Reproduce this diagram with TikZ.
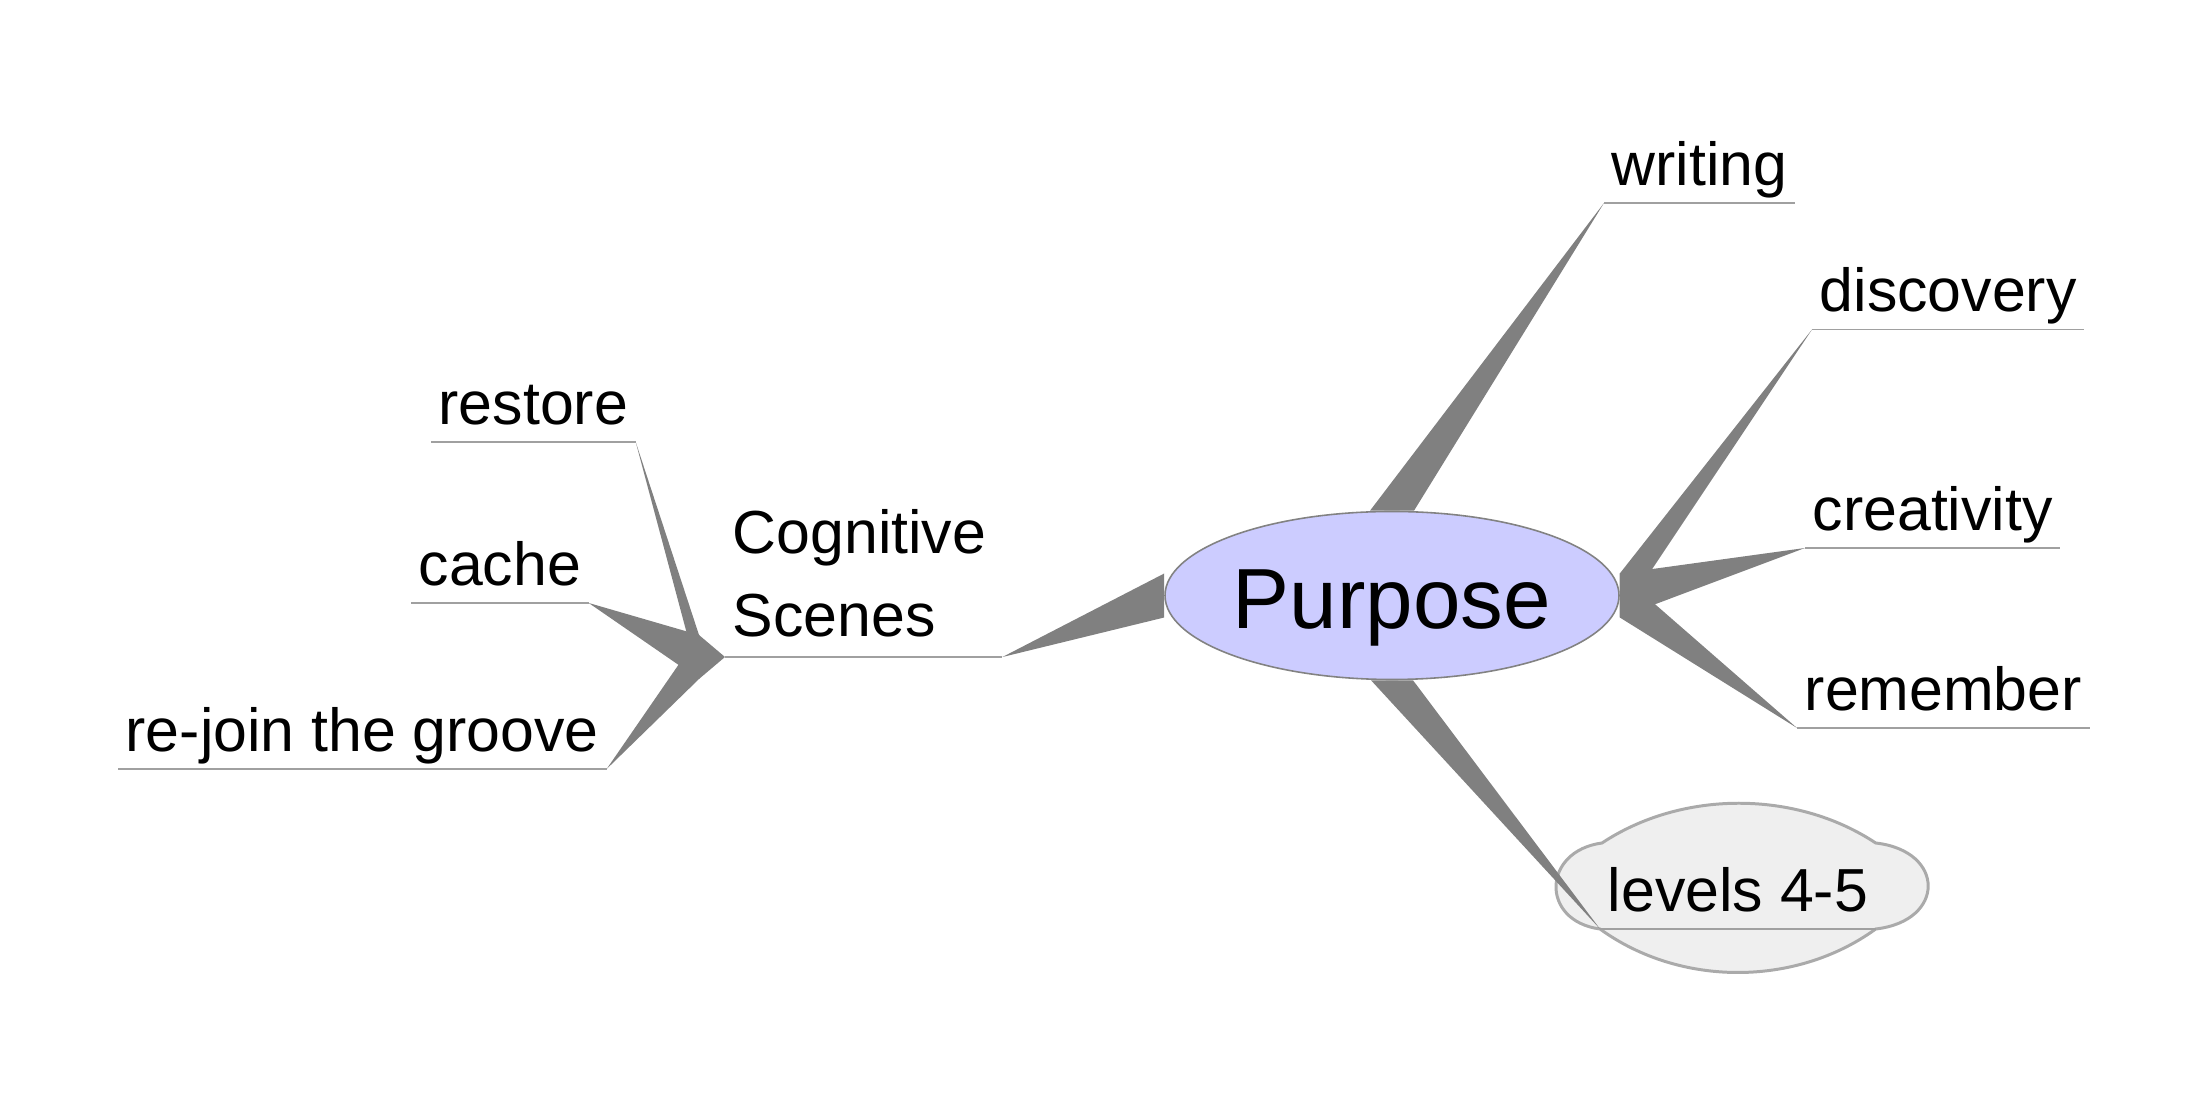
\documentclass[tikz,border=0pt]{standalone}
\usepackage{fontspec}
\setmainfont{Liberation Sans}
\usetikzlibrary{calc,backgrounds,shapes.geometric}
\definecolor{rootFill}{RGB}{204,204,255}
\definecolor{rootEdge}{RGB}{130,130,130}
\definecolor{branchGray}{RGB}{128,128,128}
\definecolor{leafLine}{RGB}{160,160,160}
\definecolor{cloudFill}{RGB}{239,239,239}
\definecolor{cloudEdge}{RGB}{170,170,170}
\newcommand{\BranchWedge}[3]{%
  \fill[branch] ($#1+#2$) -- #3 -- ($#1-#2$) -- cycle;}
\tikzset{
  root/.style={ellipse,draw=rootEdge,fill=rootFill,line width=0.45pt,minimum width=4.54cm,minimum height=1.68cm,inner sep=0pt,text height=18.5pt,text depth=0pt,font=\fontsize{24.3}{28}\selectfont},
  leaf/.style={anchor=south west,inner xsep=2pt,inner ysep=1.5pt,text height=12.5pt,text depth=3.3pt,font=\fontsize{17.3}{20.8}\selectfont},
  leafline/.style={draw=leafLine,line width=0.55pt},
  branch/.style={fill=branchGray},
  cloudline/.style={draw=cloudEdge,fill=cloudFill,line width=0.85pt}
}

\begin{document}
\begin{tikzpicture}
\useasboundingbox (0,0) rectangle (22.08,11);
\node[root] (purpose) at (13.92,5.045) {Purpose};
% right
\node[leaf] (writing) at (16.04,8.97) {writing};
\node[leaf] (discovery) at (18.12,7.705) {discovery};
\node[leaf] (creativity) at (18.05,5.52) {creativity};
\node[leaf] (remember) at (17.97,3.72) {remember};
\node[leaf] (levels) at (16.00,1.71) {levels 4-5};
% left
\node[leaf,text width=2.62cm,align=left,text height=,text depth=,inner ysep=5.5pt,font=\fontsize{17.3}{23.6}\selectfont] (scenes) at (7.25,4.43) {Cognitive\\Scenes};
\node[leaf] (restore) at (4.31,6.58) {restore};
\node[leaf] (cache) at (4.11,4.97) {cache};
\node[leaf] (rejoin) at (1.18,3.31) {re-join the groove};
\coordinate (hub) at ($(scenes.south west)+(-0.26,0)$);

\foreach \n in {writing,discovery,creativity,remember,levels,scenes,restore,cache,rejoin}
  \draw[leafline] (\n.south west) -- (\n.south east);

\begin{scope}[on background layer]
  \draw[cloudline] ($(levels.south west)+(0.02,0.86)$)
    .. controls +(0.8,0.53) and +(-0.8,0.53) .. ($(levels.south east)+(0,0.86)$)
    .. controls +(0.7,-0.08) and +(0.7,0.08) .. (levels.south east)
    .. controls +(-0.8,-0.58) and +(0.8,-0.58) .. (levels.south west)
    .. controls +(-0.6,0.08) and +(-0.6,-0.08) .. cycle;
  \BranchWedge{(purpose.north)}{(0.22,0)}{(writing.south west)}
  \BranchWedge{(purpose.east)}{(0,0.22)}{(discovery.south west)}
  \BranchWedge{(purpose.east)}{(0,0.22)}{(creativity.south west)}
  \BranchWedge{(purpose.east)}{(0,0.22)}{(remember.south west)}
  \BranchWedge{(purpose.south)}{(0.21,0)}{(levels.south west)}
  \BranchWedge{(purpose.west)}{(0,0.22)}{(scenes.south east)}
  \fill[branch] ($(hub)+(0,0.22)$) -- (scenes.south west) -- ($(hub)-(0,0.22)$) -- cycle;
  \BranchWedge{(hub)}{(0,0.22)}{(restore.south east)}
  \BranchWedge{(hub)}{(0,0.22)}{(cache.south east)}
  \BranchWedge{(hub)}{(0,0.22)}{(rejoin.south east)}
\end{scope}
\end{tikzpicture}
\end{document}
